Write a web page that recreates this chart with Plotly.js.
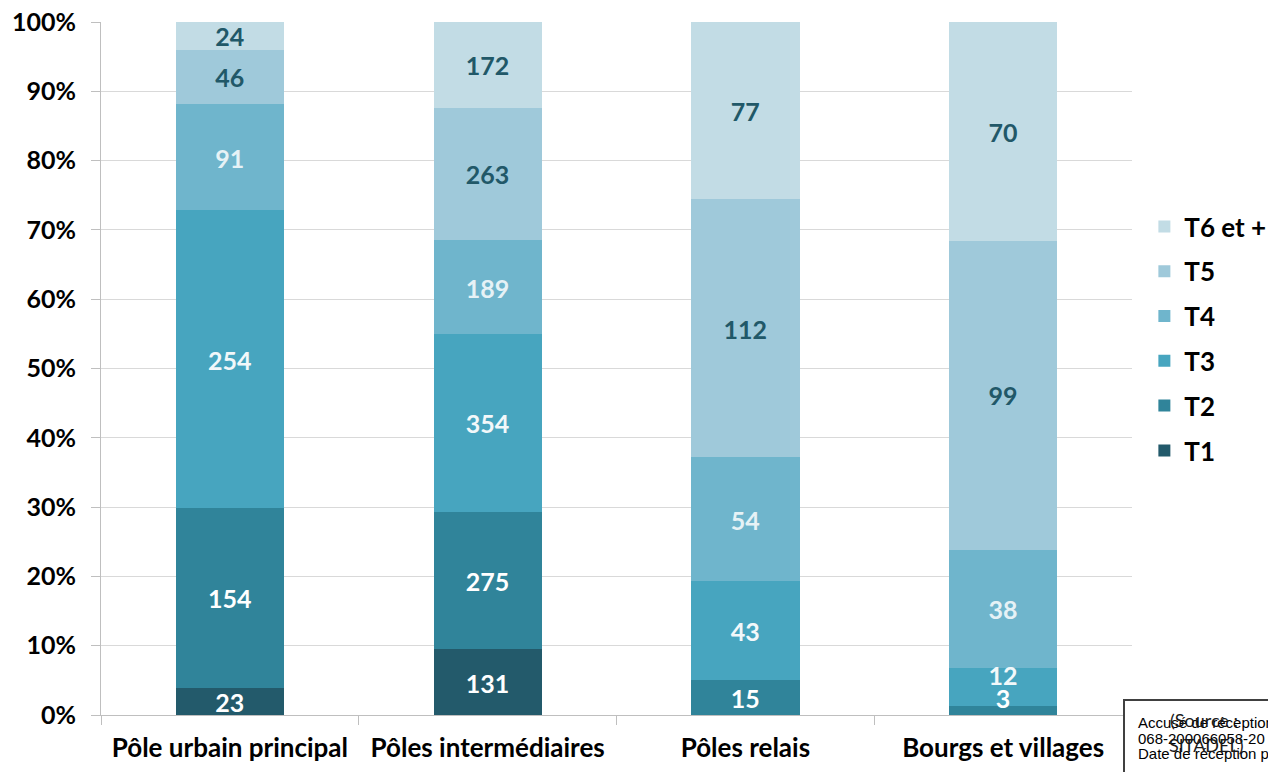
<!DOCTYPE html>
<html>
<head>
<meta charset="utf-8">
<script src="https://cdn.plot.ly/plotly-3.0.1.min.js"></script>
<style>html,body{margin:0;padding:0;background:#fff;}#chart{width:1268px;height:772px;}</style>
</head>
<body>
<div id="chart"></div>
<script>
const categories = ["Pôle urbain principal", "Pôles intermédiaires", "Pôles relais", "Bourgs et villages"];
const seriesNames = ["T1", "T2", "T3", "T4", "T5", "T6 et +"];
const T1 = [23, 131, 0, 0];
const T2 = [154, 275, 15, 3];
const T3 = [254, 354, 43, 12];
const T4 = [91, 189, 54, 38];
const T5 = [46, 263, 112, 99];
const T6 = [24, 172, 77, 70];
const seriesValues = [T1, T2, T3, T4, T5, T6];
const yTickVals = [0, 10, 20, 30, 40, 50, 60, 70, 80, 90, 100];
const yTickText = ["0%", "10%", "20%", "30%", "40%", "50%", "60%", "70%", "80%", "90%", "100%"];

const colors = ["#235a6b", "#30849a", "#47a5bf", "#6fb5cc", "#9fc9da", "#c2dce5"];
const labelColors = ["#ffffff", "#ffffff", "#f2f8fa", "#e6f2f6", "#215868", "#215868"];
const FONT = "Lato, 'Open Sans', sans-serif";

const traces = seriesValues.map((vals, i) => ({
  type: "bar",
  name: seriesNames[i],
  x: categories,
  y: vals,
  legendgroup: "g" + i,
  legendrank: 100 - i,
  marker: {color: colors[i], line: {width: 0}},
  hoverinfo: "none"
}));

// Data labels: centred in each stacked segment (percent of category total)
const lx = [], ly = [], lt = [], lc = [], lp = [];
categories.forEach((c, j) => {
  const total = seriesValues.reduce((s, arr) => s + arr[j], 0);
  let cum = 0;
  seriesValues.forEach((arr, i) => {
    const v = arr[j];
    if (v > 0) {
      const share = v / total * 100;
      lx.push(c);
      ly.push(cum + share / 2);
      lt.push(String(v));
      lc.push(labelColors[i]);
      // very thin segments: push label upward so it stays readable
      lp.push(share < 8 && j === 3 ? "top center" : "middle center");
    }
    cum += v / total * 100;
  });
});
traces.push({
  type: "scatter", mode: "text",
  x: lx, y: ly, text: lt, yaxis: "y2",
  textposition: lp,
  textfont: {family: FONT, size: 25, weight: "bold", color: lc},
  showlegend: false, hoverinfo: "none", cliponaxis: false
});

const px = (p) => (p - 101) / 1031;
const py = (p) => (715 - p) / 693;

const layout = {
  width: 1268, height: 772,
  margin: {l: 101, r: 136, t: 22, b: 57, autoexpand: false},
  paper_bgcolor: "#fff", plot_bgcolor: "#fff",
  barmode: "stack", barnorm: "percent", bargap: 0.58,
  showlegend: true,
  legend: {
    x: 1.012, y: py(203), xanchor: "left", yanchor: "top",
    traceorder: "grouped", tracegroupgap: 8,
    font: {family: FONT, size: 26, weight: "bold", color: "#000"},
    itemwidth: 30
  },
  xaxis: {
    type: "category",
    showgrid: false,
    showline: true, linecolor: "#bfbfbf", linewidth: 1,
    ticks: "outside", tickson: "boundaries", ticklen: 9, tickcolor: "#bfbfbf",
    tickfont: {family: FONT, size: 26, weight: "bold", color: "#000"},
    ticklabelstandoff: 10,
    fixedrange: true
  },
  yaxis: {
    range: [0, 100],
    tickvals: yTickVals, ticktext: yTickText,
    showgrid: true, gridcolor: "#d9d9d9", gridwidth: 1,
    showline: true, linecolor: "#bfbfbf", linewidth: 1,
    ticks: "outside", ticklen: 9, tickcolor: "#bfbfbf",
    tickfont: {family: FONT, size: 25, weight: "bold", color: "#000"},
    ticklabelstandoff: 10,
    zeroline: false,
    fixedrange: true
  },
  // label layer: same scale, text nudged a few pixels down
  yaxis2: {
    overlaying: "y", range: [0.6, 100.6], visible: false, fixedrange: true
  },
  shapes: [{
    type: "rect", xref: "paper", yref: "paper",
    x0: px(1124), x1: px(1300), y0: py(700), y1: py(790),
    line: {color: "#404040", width: 2}, fillcolor: "#ffffff", layer: "above"
  }],
  annotations: [
    {xref: "paper", yref: "paper", x: px(1136), y: py(722), xanchor: "left", yanchor: "middle", showarrow: false,
     text: "Accusé de réception en préfecture", font: {family: "'Liberation Sans', Arial, sans-serif", size: 15, color: "#000"}},
    {xref: "paper", yref: "paper", x: px(1136), y: py(738), xanchor: "left", yanchor: "middle", showarrow: false,
     text: "068-200066058-20", font: {family: "'Liberation Sans', Arial, sans-serif", size: 15, color: "#000"}},
    {xref: "paper", yref: "paper", x: px(1136), y: py(753), xanchor: "left", yanchor: "middle", showarrow: false,
     text: "Date de réception préfecture", font: {family: "'Liberation Sans', Arial, sans-serif", size: 15, color: "#000"}},
    {xref: "paper", yref: "paper", x: px(1204), y: py(720), xanchor: "center", yanchor: "middle", showarrow: false,
     text: "(Source :", font: {family: FONT, size: 18, color: "#1a1a1a"}},
    {xref: "paper", yref: "paper", x: px(1206), y: py(745), xanchor: "center", yanchor: "middle", showarrow: false,
     text: "SITADEL)", font: {family: FONT, size: 18, color: "#1a1a1a"}}
  ]
};

Plotly.newPlot("chart", traces, layout, {displayModeBar: false, staticPlot: true});
</script>
</body>
</html>
